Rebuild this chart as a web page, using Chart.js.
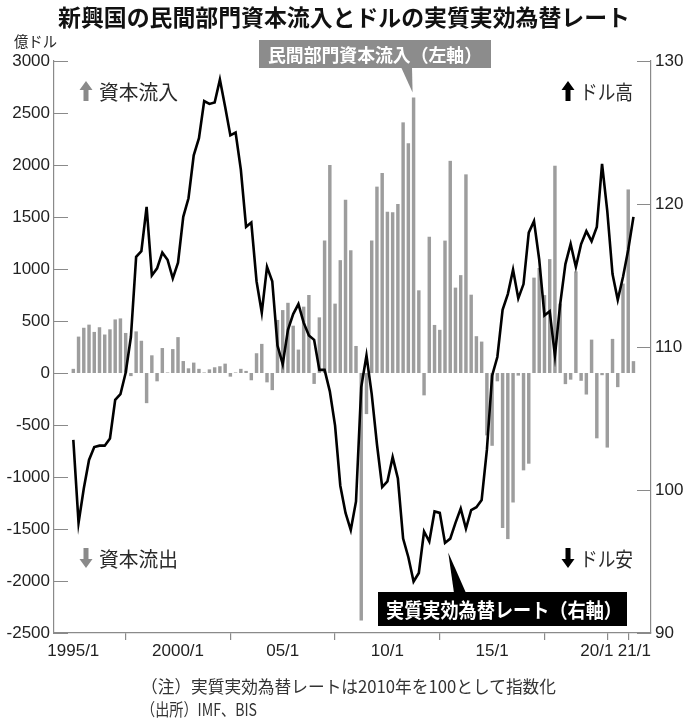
<!DOCTYPE html>
<html>
<head>
<meta charset="utf-8">
<script src="https://cdn.jsdelivr.net/npm/chart.js@4.4.1/dist/chart.umd.min.js"></script>
<style>
  body { margin: 0; background: #fff; }
  #wrap { position: relative; width: 688px; height: 719px; overflow: hidden; }
  #chart { position: absolute; left: 0; top: 0; }
  .txt { position: absolute; white-space: nowrap; font-family: "Noto Sans CJK JP", sans-serif; transform-origin: 0 0; line-height: 1; }
  #title { top: 5px; left: 58px; font-size: 23px; font-weight: bold; color: #111; }
  #unit { top: 33px; left: 14px; font-size: 15px; color: #222; }
  #note1 { top: 677px; left: 141px; font-size: 17px; color: #333; }
  #note2 { top: 700px; left: 141px; font-size: 17px; color: #333; }
</style>
</head>
<body>
<div id="wrap">
  <canvas id="chart" width="688" height="719"></canvas>
  <div class="txt" id="title" data-w="572">新興国の民間部門資本流入とドルの実質実効為替レート</div>
  <div class="txt" id="unit" data-w="43">億ドル</div>
  <div class="txt" id="note1" data-w="415">（注）実質実効為替レートは2010年を100として指数化</div>
  <div class="txt" id="note2" data-w="116">（出所）IMF、BIS</div>
</div>
<script>
// quarterly, 1995Q1 .. 2021Q4
const capitalFlows = [
  40, 350, 435, 465, 395, 440, 370, 420, 515, 525,
  385, -30, 400, 310, -290, 170, -80, 240, 5, 230,
  345, 115, 45, 100, 40, 5, 35, 55, 65, 90,
  -35, 5, 40, 20, -70, 190, 280, -90, -165, 510,
  605, 675, 455, 225, 638, 750, -105, 535, 1275, 2000,
  667, 1085, 1665, 1180, 260, -2380, -395, 1275, 1792, 1923,
  1550, 1545, 1625, 2410, 2210, 2650, 795, -215, 1310, 462,
  415, 1273, 2040, 821, 941, 1910, 753, 354, 302, -600,
  -700, -80, -1490, -1597, -1245, -25, -936, -872, 917, 1010,
  749, 1095, 1993, 667, -107, -64, 977, -75, -207, 321,
  -628, -21, -717, 328, -136, 860, 1765, 114
];

const reerIndex = [
  103.5, 97.7, 100.1, 102.1, 103.0, 103.1, 103.1, 103.6, 106.3, 106.7,
  108.2, 110.7, 116.3, 116.7, 119.8, 115.0, 115.5, 116.6, 116.1, 114.8,
  115.9, 119.1, 120.4, 123.4, 124.6, 127.2, 127.0, 127.1, 128.7, 126.8,
  124.8, 125.0, 122.4, 118.4, 118.7, 114.6, 112.4, 115.6, 114.6, 110.1,
  108.8, 111.2, 112.3, 113.0, 111.7, 110.8, 110.5, 108.4, 108.4, 106.9,
  104.5, 100.3, 98.4, 97.2, 99.2, 107.2, 109.4, 106.7, 103.2, 100.2,
  100.6, 102.3, 100.8, 96.6, 95.3, 93.6, 94.2, 97.1, 96.4, 98.5,
  98.4, 96.3, 96.6, 97.7, 98.7, 97.3, 98.6, 98.8, 99.3, 102.8,
  108.0, 109.3, 112.6, 113.7, 115.4, 113.4, 114.4, 118.0, 118.8, 116.1,
  112.2, 112.5, 109.4, 113.0, 115.8, 117.2, 115.6, 117.2, 118.1, 117.4,
  118.4, 122.8, 119.5, 115.1, 113.3, 114.9, 116.8, 119.1
];

const xTickValues = [0, 20, 40, 60, 80, 100, 104];
const xTickLabels = ['1995/1', '2000/1', '05/1', '10/1', '15/1', '20/1', '21/1'];

const flowsLabel = '民間部門資本流入（左軸）';
const reerLabel = '実質実効為替レート（右軸）';
const flowsPeak = 65;   // quarter the grey callout points at
const reerPoint = 72;   // quarter the black callout points at

const AXIS_GREY = '#8a8a8a';
const NUM_FONT = '"Liberation Sans", Arial, sans-serif';
const JP_FONT = '"Noto Sans CJK JP", sans-serif';

// squeeze html text to the width it has in the print layout
document.querySelectorAll('.txt').forEach((el) => {
  const w = el.getBoundingClientRect().width;
  el.style.transform = 'scaleX(' + (el.dataset.w / w) + ')';
});

function fitText(ctx, text, x, y, width, align) {
  const w = ctx.measureText(text).width;
  const sx = width / w;
  ctx.save();
  ctx.translate(x, y);
  ctx.scale(sx, 1);
  ctx.textAlign = align || 'left';
  ctx.fillText(text, 0, 0);
  ctx.restore();
}

function arrow(ctx, cx, top, bottom, up, color) {
  const headH = 9;
  const headW = 13;
  const shaftW = 5;
  ctx.fillStyle = color;
  ctx.beginPath();
  if (up) {
    ctx.moveTo(cx, top);
    ctx.lineTo(cx + headW / 2, top + headH);
    ctx.lineTo(cx + shaftW / 2, top + headH);
    ctx.lineTo(cx + shaftW / 2, bottom);
    ctx.lineTo(cx - shaftW / 2, bottom);
    ctx.lineTo(cx - shaftW / 2, top + headH);
    ctx.lineTo(cx - headW / 2, top + headH);
  } else {
    ctx.moveTo(cx, bottom);
    ctx.lineTo(cx + headW / 2, bottom - headH);
    ctx.lineTo(cx + shaftW / 2, bottom - headH);
    ctx.lineTo(cx + shaftW / 2, top);
    ctx.lineTo(cx - shaftW / 2, top);
    ctx.lineTo(cx - shaftW / 2, bottom - headH);
    ctx.lineTo(cx - headW / 2, bottom - headH);
  }
  ctx.closePath();
  ctx.fill();
}

// short tick marks pointing into the plot, like the print original
const innerTicks = {
  id: 'innerTicks',
  afterDraw(chart) {
    const { ctx, chartArea: a, scales } = chart;
    ctx.save();
    ctx.strokeStyle = AXIS_GREY;
    ctx.lineWidth = 1.2;
    ctx.beginPath();
    scales.y.ticks.forEach((t) => {
      const y = Math.round(scales.y.getPixelForValue(t.value)) + 0.5;
      ctx.moveTo(a.left, y);
      ctx.lineTo(a.left + 14, y);
    });
    scales.y2.ticks.forEach((t) => {
      const y = Math.round(scales.y2.getPixelForValue(t.value)) + 0.5;
      ctx.moveTo(a.right - 14, y);
      ctx.lineTo(a.right, y);
    });
    ctx.stroke();
    ctx.restore();
  },
};

const callouts = {
  id: 'callouts',
  afterDraw(chart) {
    const { ctx, scales } = chart;
    ctx.save();

    // grey box -> peak bar
    const px = scales.x.getPixelForValue(flowsPeak);
    const py = scales.y.getPixelForValue(capitalFlows[flowsPeak]) - 5;
    ctx.fillStyle = '#8c8c8c';
    ctx.fillRect(259, 40, 232, 28);
    ctx.beginPath();
    ctx.moveTo(401, 67);
    ctx.lineTo(412, 67);
    ctx.lineTo(px - 1, py);
    ctx.closePath();
    ctx.fill();
    ctx.fillStyle = '#fff';
    ctx.font = 'bold 18px ' + JP_FONT;
    ctx.textBaseline = 'middle';
    fitText(ctx, flowsLabel, 268, 55, 214);

    // black box -> line
    const lx = scales.x.getPixelForValue(reerPoint) - 2;
    const ly = scales.y2.getPixelForValue(reerIndex[reerPoint]) + 14;
    ctx.fillStyle = '#000';
    ctx.fillRect(378, 592, 249, 34);
    ctx.beginPath();
    ctx.moveTo(454, 593);
    ctx.lineTo(466, 593);
    ctx.lineTo(lx, ly);
    ctx.closePath();
    ctx.fill();
    ctx.fillStyle = '#fff';
    ctx.font = 'bold 20px ' + JP_FONT;
    fitText(ctx, reerLabel, 386, 610, 236);

    // direction labels
    ctx.font = '20px ' + JP_FONT;
    arrow(ctx, 86, 81, 101, true, '#8a8a8a');
    arrow(ctx, 86, 548, 568, false, '#8a8a8a');
    arrow(ctx, 568, 81, 101, true, '#000');
    arrow(ctx, 568, 548, 568, false, '#000');
    ctx.fillStyle = '#2a2a2a';
    fitText(ctx, '資本流入', 99, 92, 79);
    fitText(ctx, '資本流出', 99, 559, 79);
    fitText(ctx, 'ドル高', 580, 92, 53);
    fitText(ctx, 'ドル安', 580, 559, 53);

    ctx.restore();
  },
};

const quarters = capitalFlows.map((_, i) => i);

new Chart(document.getElementById('chart'), {
  type: 'bar',
  data: {
    datasets: [
      {
        type: 'line',
        label: reerLabel,
        data: quarters.map((i) => ({ x: i, y: reerIndex[i] })),
        yAxisID: 'y2',
        borderColor: '#000',
        borderWidth: 2.6,
        pointRadius: 0,
        tension: 0,
        borderJoinStyle: 'miter',
        order: 0,
      },
      {
        type: 'bar',
        label: flowsLabel,
        data: quarters.map((i) => ({ x: i, y: capitalFlows[i] })),
        yAxisID: 'y',
        backgroundColor: '#9d9d9d',
        barPercentage: 0.66,
        categoryPercentage: 1,
        order: 1,
      },
    ],
  },
  options: {
    responsive: false,
    animation: false,
    devicePixelRatio: 1,
    layout: { padding: { top: 61, bottom: 46, left: 0, right: 0 } },
    plugins: {
      legend: { display: false },
      tooltip: { enabled: false },
    },
    scales: {
      x: {
        type: 'linear',
        min: -3.69,
        max: 110.35,
        offset: false,
        afterBuildTicks: (s) => {
          s.ticks = xTickValues.map((v) => ({ value: v }));
        },
        afterFit: (s) => { s.height = 40; },
        ticks: {
          autoSkip: false,
          maxRotation: 0,
          padding: 1,
          color: '#222',
          font: { family: NUM_FONT, size: 17 },
          // the last label sits to the right of its tick, as in print
          callback: (v, i, ticks) => {
            const label = xTickLabels[xTickValues.indexOf(v)];
            return i === ticks.length - 1 ? '       ' + label : label;
          },
        },
        grid: { drawOnChartArea: false, drawTicks: true, tickLength: 7, color: AXIS_GREY, lineWidth: 1.2 },
        border: { display: true, color: AXIS_GREY, width: 1.2 },
      },
      y: {
        position: 'left',
        min: -2500,
        max: 3000,
        afterFit: (s) => { s.width = 54; },
        ticks: {
          stepSize: 500,
          padding: 4,
          color: '#222',
          font: { family: NUM_FONT, size: 17 },
          callback: (v) => String(v),
        },
        grid: { display: false, drawTicks: false },
        border: { display: true, color: AXIS_GREY, width: 1.2 },
      },
      y2: {
        position: 'right',
        min: 90,
        max: 130,
        afterFit: (s) => { s.width = 37; },
        ticks: {
          stepSize: 10,
          padding: 4,
          color: '#222',
          font: { family: NUM_FONT, size: 17 },
          callback: (v) => String(v),
        },
        grid: { display: false, drawTicks: false },
        border: { display: true, color: AXIS_GREY, width: 1.2 },
      },
    },
  },
  plugins: [innerTicks, callouts],
});
</script>
</body>
</html>
